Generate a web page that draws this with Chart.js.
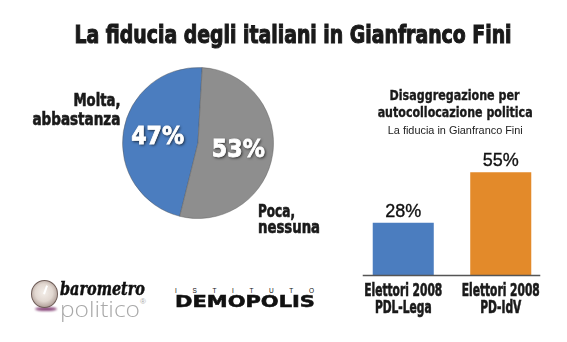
<!DOCTYPE html>
<html><head><meta charset="utf-8">
<script src="https://cdn.jsdelivr.net/npm/chart.js@4.4.1/dist/chart.umd.min.js"></script>
<style>
html,body{margin:0;padding:0}
body{width:567px;height:342px;background:#fff;position:relative;overflow:hidden;font-family:"Liberation Sans",Arial,sans-serif;color:#1a1a1a}
.abs{position:absolute;white-space:nowrap}
.cond{font-family:"Liberation Sans Narrow","DejaVu Sans Condensed",sans-serif;font-weight:bold;color:#1a1a1a;-webkit-text-stroke:0.6px #1a1a1a}
.fit{display:inline-block}
</style></head><body>

<div class="abs cond" style="left:43px;top:23px;width:437px;text-align:center;font-size:24px;line-height:24px;-webkit-text-stroke:1px #1a1a1a"><span class="fit" data-w="437">La fiducia degli italiani in Gianfranco Fini</span></div>

<div id="pieBox" class="abs" style="left:122px;top:67px;width:152px;height:152px"><canvas id="pie"></canvas></div>

<div class="abs cond" style="right:447px;top:90.6px;font-size:17px;line-height:19px;text-align:right"><span class="fit" data-w="47" data-origin="right">Molta,</span><br><span class="fit" data-w="88" data-origin="right">abbastanza</span></div>
<div class="abs cond" style="left:258px;top:202.6px;font-size:17px;line-height:16px"><span class="fit" data-w="37" data-origin="left">Poca,</span><br><span class="fit" data-w="62" data-origin="left">nessuna</span></div>

<div class="abs cond" style="left:355px;top:87px;width:200px;text-align:center;font-size:14px;line-height:17px;-webkit-text-stroke:0.35px #1a1a1a"><span class="fit" data-w="130">Disaggregazione per</span><br><span class="fit" data-w="155">autocollocazione politica</span></div>
<div class="abs" style="left:355px;top:124px;width:200px;text-align:center;font-size:11.5px;line-height:12px;color:#222"><span class="fit" data-w="135">La fiducia in Gianfranco Fini</span></div>

<div id="barBox" class="abs" style="left:340px;top:140px;width:227px;height:190px"><canvas id="bar"></canvas></div>

<!-- logos -->
<div class="abs" style="left:35px;top:307px;width:22px;height:4px;border-radius:50%;background:#8a4a7c;filter:blur(1px)"></div>
<div class="abs" style="left:31px;top:280px;width:25px;height:26px;border-radius:50%;border:1px solid #6e5c57;background:radial-gradient(circle at 48% 45%,#f4eee9 0%,#e2d8d1 45%,#a8968f 80%,#6a5752 100%)"></div>
<div class="abs" style="left:43px;top:285px;width:1.5px;height:9px;background:#fff;transform:rotate(20deg);transform-origin:bottom"></div>
<div class="abs" style="left:60px;top:280px;font-family:'DejaVu Serif',serif;font-weight:bold;font-style:italic;font-size:18px;line-height:18px;color:#111;-webkit-text-stroke:0.5px #111"><span class="fit" data-w="85" data-origin="left">barometro</span></div>
<div class="abs" style="left:60px;top:297px;font-family:'Open Sans','Liberation Sans',sans-serif;font-weight:300;font-size:22px;line-height:22px;color:#a9a9a9"><span class="fit" data-w="80" data-origin="left">politico</span></div>
<div class="abs" style="left:140px;top:298px;font-family:'Liberation Sans',sans-serif;font-size:8px;line-height:8px;color:#a9a9a9">®</div>

<div class="abs" style="left:175px;top:287px;width:139px;font-family:'Liberation Sans',sans-serif;font-size:6.5px;line-height:7px;color:#111;display:flex;justify-content:space-between"><span>I</span><span>S</span><span>T</span><span>I</span><span>T</span><span>U</span><span>T</span><span>O</span></div>
<div class="abs" style="left:175px;top:295px;font-family:'DejaVu Sans',sans-serif;font-weight:bold;font-size:15px;line-height:15px;color:#111;-webkit-text-stroke:0.5px #111"><span class="fit" data-w="140" data-origin="left">DEMOPOLIS</span></div>

<script>
// ---- data ----
const pieLabels = ['Molta, abbastanza', 'Poca, nessuna'];
const pieValues = [47, 53];
const pieColors = ['#4b7dbf', '#8e8e8e'];

const barCategories = [['Elettori 2008', 'PDL-Lega'], ['Elettori 2008', 'PD-IdV']];
const barValues = [28, 55];
const barColors = ['#4b7dbf', '#e38a2a'];

// fit text widths
document.querySelectorAll('.fit').forEach(el => {
  const w = parseFloat(el.dataset.w);
  const cw = el.getBoundingClientRect().width;
  if (cw > 0) {
    const o = el.dataset.origin;
    el.style.transformOrigin = o === 'left' ? 'left center' : (o === 'right' ? 'right center' : 'center center');
    el.style.transform = 'scaleX(' + (w / cw) + ')';
  }
});

const condFont = '"Liberation Sans Narrow","DejaVu Sans Condensed",sans-serif';

const pieLabelPlugin = {
  id: 'pieLabel',
  afterDatasetsDraw(chart) {
    const ctx = chart.ctx;
    const meta = chart.getDatasetMeta(0);
    meta.data.forEach((arc, i) => {
      const p = arc.getProps(['x', 'y', 'startAngle', 'endAngle', 'outerRadius']);
      const mid = (p.startAngle + p.endAngle) / 2;
      const r = p.outerRadius * 0.54;
      const x = p.x + Math.cos(mid) * r;
      const y = p.y + Math.sin(mid) * r;
      const txt = pieValues[i] + '%';
      ctx.save();
      ctx.font = 'bold 25px ' + condFont;
      const s = 53 / ctx.measureText(txt).width;
      ctx.translate(x, y);
      ctx.scale(s, 1);
      ctx.textAlign = 'center';
      ctx.textBaseline = 'middle';
      ctx.shadowColor = 'rgba(0,0,0,0.85)';
      ctx.shadowBlur = 3;
      ctx.shadowOffsetX = 1;
      ctx.shadowOffsetY = 1;
      ctx.fillStyle = '#ffffff';
      ctx.strokeStyle = '#ffffff';
      ctx.lineWidth = 0.8;
      ctx.fillText(txt, 0, 1);
      ctx.shadowColor = 'transparent';
      ctx.strokeText(txt, 0, 1);
      ctx.restore();
    });
  }
};

new Chart(document.getElementById('pie'), {
  type: 'pie',
  data: {
    labels: pieLabels,
    datasets: [{
      data: pieValues,
      backgroundColor: pieColors,
      borderColor: 'rgba(90,90,90,0.45)',
      borderWidth: 1,
      hoverOffset: 0,
      offset: 0
    }]
  },
  options: {
    responsive: true,
    maintainAspectRatio: false,
    animation: false,
    rotation: 194,
    layout: { padding: 0 },
    plugins: { legend: { display: false }, tooltip: { enabled: false } }
  },
  plugins: [pieLabelPlugin]
});

const barExtras = {
  id: 'barExtras',
  afterDatasetsDraw(chart) {
    const ctx = chart.ctx;
    const meta = chart.getDatasetMeta(0);
    const xs = chart.scales.x;
    const y0 = chart.scales.y.getPixelForValue(0);
    const first = meta.data[0], last = meta.data[meta.data.length - 1];
    ctx.save();
    // baseline axis
    ctx.strokeStyle = '#555';
    ctx.lineWidth = 1.5;
    ctx.beginPath();
    ctx.moveTo(first.x - first.width / 2 - 10, y0 + 0.5);
    ctx.lineTo(last.x + last.width / 2 + 9, y0 + 0.5);
    ctx.stroke();
    // value labels
    ctx.font = '18px "Liberation Sans", Arial, sans-serif';
    ctx.fillStyle = '#111';
    ctx.strokeStyle = '#111';
    ctx.lineWidth = 0.35;
    ctx.textAlign = 'center';
    ctx.textBaseline = 'alphabetic';
    meta.data.forEach((bar, i) => {
      ctx.fillText(barValues[i] + '%', bar.x, bar.y - 6);
      ctx.strokeText(barValues[i] + '%', bar.x, bar.y - 6);
    });
    // category labels (from x scale)
    ctx.font = 'bold 17px ' + condFont;
    const s = 78 / ctx.measureText('Elettori 2008').width;
    ctx.fillStyle = '#1a1a1a';
    ctx.strokeStyle = '#1a1a1a';
    ctx.lineWidth = 0.6;
    barCategories.forEach((lines, i) => {
      const cx = xs.getPixelForValue(i);
      lines.forEach((ln, j) => {
        ctx.save();
        ctx.translate(cx, y0 + 21 + j * 17);
        ctx.scale(s, 1);
        ctx.fillText(ln, 0, 0);
        ctx.strokeText(ln, 0, 0);
        ctx.restore();
      });
    });
    ctx.restore();
  }
};

new Chart(document.getElementById('bar'), {
  type: 'bar',
  data: {
    labels: barCategories,
    datasets: [{
      data: barValues,
      backgroundColor: barColors,
      borderWidth: 0,
      barPercentage: 0.626,
      categoryPercentage: 1
    }]
  },
  options: {
    responsive: true,
    maintainAspectRatio: false,
    animation: false,
    layout: { padding: { top: 23, left: 14.5, right: 17.5, bottom: 55 } },
    scales: {
      y: { display: false, min: 0, max: 60 },
      x: { display: false }
    },
    plugins: { legend: { display: false }, tooltip: { enabled: false } }
  },
  plugins: [barExtras]
});
</script>
</body></html>
